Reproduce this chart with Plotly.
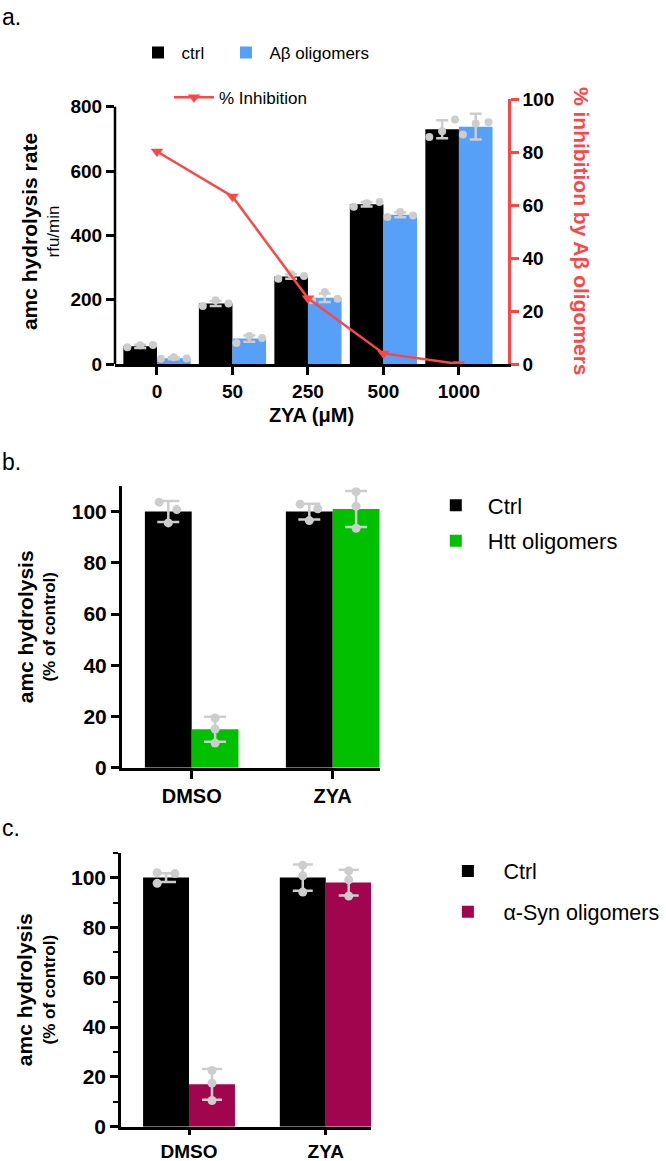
import plotly.graph_objects as go

# ---------------- data ----------------
# Panel a
zya_labels = ["0", "50", "250", "500", "1000"]
ctrl_a = [55, 188, 272, 497, 730]
ctrl_a_sd = [5, 8, 7, 7, 28]
ctrl_a_pts = [[52, 58, 59], [180, 198, 188], [265, 279, 274], [489, 500, 504], [706, 724, 760]]
abeta_a = [18, 79, 206, 464, 738]
abeta_a_sd = [3, 10, 13, 8, 40]
abeta_a_pts = [[16, 21, 17], [65, 87, 81], [198, 224, 203], [457, 473, 462], [714, 748, 752]]
inhibition = [80.2, 63.2, 24.8, 4.0, 0.0]

# Panel b
groups_bc = ["DMSO", "ZYA"]
ctrl_b = [100, 100]
ctrl_b_sd = [4.1, 3.1]
ctrl_b_pts = [[103.7, 95.6, 100.8], [102.9, 96.5, 101.1]]
htt_b = [15, 101]
htt_b_sd = [4.9, 7.0]
htt_b_pts = [[19.4, 15.1, 9.6], [107.8, 102.1, 93.5]]

# Panel c
ctrl_c = [100, 100]
ctrl_c_sd = [1.8, 5.3]
ctrl_c_pts = [[102.0, 97.7, 101.6], [105.0, 100.7, 94.2]]
syn_c = [17, 98]
syn_c_sd = [6.2, 5.2]
syn_c_pts = [[22.6, 17.5, 10.5], [102.7, 99.1, 92.6]]

# ---------------- style ----------------
W, H = 666, 1161
FONT = "Liberation Sans, Arial, Helvetica, sans-serif"
BLACK = "#000000"
BLUE = "#56A0FA"
GREEN = "#00C000"
MAROON = "#A0054E"
RED = "#FF4545"
GRAY = "#CDCDCD"

BW_A = 0.445
BW_B = 0.332
BW_C = 0.336
JIT_A = [-0.17, 0.0, 0.17]
JIT_B_CTRL = [-0.065, 0.0, 0.06]
JIT_CENTER = [0.0, 0.0, 0.0]
JIT_C_CTRL = [[-0.065, -0.065, 0.065], [0.0, 0.0, 0.0]]


def fx(p):
    return p / W


def fy(p):
    return 1 - p / H


def points(pts, center_off, jit):
    xs, ys = [], []
    for i, grp in enumerate(pts):
        j = jit[i] if isinstance(jit[0], list) else jit
        for k, v in enumerate(grp):
            xs.append(i + center_off + j[k])
            ys.append(v)
    return xs, ys


def err(arr, w):
    return dict(type="data", array=arr, color=GRAY, thickness=2.5, width=w)


fig = go.Figure()

# ---------------- panel a ----------------
xa = list(range(len(zya_labels)))
fig.add_trace(go.Bar(x=xa, y=ctrl_a, offset=-BW_A, width=BW_A, name="ctrl",
                     marker=dict(color=BLACK, line=dict(width=0)),
                     error_y=err(ctrl_a_sd, 6), xaxis="x", yaxis="y", legend="legend"))
fig.add_trace(go.Bar(x=xa, y=abeta_a, offset=0, width=BW_A, name="Aβ oligomers",
                     marker=dict(color=BLUE, line=dict(width=0)),
                     error_y=err(abeta_a_sd, 6), xaxis="x", yaxis="y", legend="legend5"))
for pts, off in ((ctrl_a_pts, -BW_A / 2), (abeta_a_pts, BW_A / 2)):
    xs, ys = points(pts, off, JIT_A)
    fig.add_trace(go.Scatter(x=xs, y=ys, mode="markers", marker=dict(color=GRAY, size=8),
                             showlegend=False, hoverinfo="skip", xaxis="x", yaxis="y"))
fig.add_trace(go.Scatter(x=xa, y=inhibition, mode="lines+markers", name="% Inhibition",
                         line=dict(color=RED, width=2.5),
                         marker=dict(symbol="triangle-down", size=11, color=RED),
                         xaxis="x", yaxis="y2", legend="legend2"))

# ---------------- panel b ----------------
xb = list(range(len(groups_bc)))
fig.add_trace(go.Bar(x=xb, y=ctrl_b, offset=-BW_B, width=BW_B, name="Ctrl",
                     marker=dict(color=BLACK, line=dict(width=0)),
                     error_y=err(ctrl_b_sd, 11), xaxis="x2", yaxis="y3",
                     legend="legend3", legendgroup="b1"))
fig.add_trace(go.Bar(x=xb, y=htt_b, offset=0, width=BW_B, name="Htt oligomers",
                     marker=dict(color=GREEN, line=dict(width=0)),
                     error_y=err(htt_b_sd, 11), xaxis="x2", yaxis="y3",
                     legend="legend3", legendgroup="b2"))
for pts, off, jit in ((ctrl_b_pts, -BW_B / 2, JIT_B_CTRL), (htt_b_pts, BW_B / 2, JIT_CENTER)):
    xs, ys = points(pts, off, jit)
    fig.add_trace(go.Scatter(x=xs, y=ys, mode="markers", marker=dict(color=GRAY, size=9),
                             showlegend=False, hoverinfo="skip", xaxis="x2", yaxis="y3"))

# ---------------- panel c ----------------
fig.add_trace(go.Bar(x=xb, y=ctrl_c, offset=-BW_C, width=BW_C, name="Ctrl",
                     marker=dict(color=BLACK, line=dict(width=0)),
                     error_y=err(ctrl_c_sd, 10), xaxis="x3", yaxis="y4",
                     legend="legend4", legendgroup="c1"))
fig.add_trace(go.Bar(x=xb, y=syn_c, offset=0, width=BW_C, name="α-Syn oligomers",
                     marker=dict(color=MAROON, line=dict(width=0)),
                     error_y=err(syn_c_sd, 10), xaxis="x3", yaxis="y4",
                     legend="legend4", legendgroup="c2"))
for pts, off, jit in ((ctrl_c_pts, -BW_C / 2, JIT_C_CTRL), (syn_c_pts, BW_C / 2, JIT_CENTER)):
    xs, ys = points(pts, off, jit)
    fig.add_trace(go.Scatter(x=xs, y=ys, mode="markers", marker=dict(color=GRAY, size=9),
                             showlegend=False, hoverinfo="skip", xaxis="x3", yaxis="y4"))


# ---------------- axes ----------------
def ax(**kw):
    d = dict(showgrid=False, zeroline=False, showline=True, linecolor=BLACK, linewidth=2.5,
             ticks="outside", ticklen=8, tickwidth=2.5, tickcolor=BLACK,
             tickfont=dict(family=FONT, size=19, color=BLACK, weight="bold"),
             fixedrange=True, automargin=False)
    d.update(kw)
    return d


sub_font = dict(family=FONT, size=17, color=BLACK)
tick_bc = dict(family=FONT, size=21, color=BLACK, weight="bold")
xtick_bc = dict(family=FONT, size=20, color=BLACK, weight="bold")
title_a = "<b><span style='font-size:21px'>amc hydrolysis rate</span></b><br>rfu/min"
title_bc = "<b><span style='font-size:21px'>amc hydrolysis</span></b><br><b>(% of control)</b>"
leg_common = dict(xanchor="left", yanchor="middle", bgcolor="rgba(0,0,0,0)")

layout = dict(
    width=W, height=H,
    margin=dict(l=0, r=0, t=0, b=0, autoexpand=False),
    paper_bgcolor="white", plot_bgcolor="white",
    barmode="overlay",
    font=dict(family=FONT, color=BLACK, size=17),
    # panel a
    xaxis=ax(domain=[fx(115), fx(508)], range=[-0.556, 4.65], anchor="y",
             tickmode="array", tickvals=xa, ticktext=zya_labels,
             title=dict(text="ZYA (μM)", font=dict(family=FONT, size=20, weight="bold"), standoff=8)),
    yaxis=ax(domain=[fy(364), fy(99)], range=[0, 824], anchor="x", showline=False,
             tickmode="array", tickvals=[0, 200, 400, 600, 800],
             title=dict(text=title_a, font=sub_font, standoff=6)),
    yaxis2=ax(overlaying="y", side="right", anchor="x", range=[0, 100],
              tickmode="array", tickvals=[0, 20, 40, 60, 80, 100],
              linecolor=RED, tickcolor=RED),
    # panel b
    xaxis2=ax(domain=[fx(121.7), fx(380)], range=[-0.4965, 1.3355], anchor="y3",
              tickmode="array", tickvals=xb, ticktext=groups_bc, ticklen=9, tickfont=xtick_bc),
    yaxis3=ax(domain=[fy(767.7), fy(486)], range=[0, 110], anchor="x2",
              tickmode="array", tickvals=[0, 20, 40, 60, 80, 100], tickfont=tick_bc,
              title=dict(text=title_bc, font=sub_font, standoff=12)),
    # panel c
    xaxis3=ax(domain=[fx(121), fx(371)], range=[-0.4975, 1.331], anchor="y4",
              tickmode="array", tickvals=xb, ticktext=groups_bc, ticklen=6,
              tickfont=dict(family=FONT, size=19, color=BLACK, weight="bold")),
    yaxis4=ax(domain=[fy(1126.7), fy(852.7)], range=[0, 110], anchor="x3",
              tickmode="linear", tick0=0, dtick=20,
              minor=dict(dtick=10, ticks="outside", ticklen=5, tickwidth=2, tickcolor=BLACK),
              tickfont=tick_bc,
              title=dict(text=title_bc, font=sub_font, standoff=12)),
    # legends
    legend=dict(orientation="h", x=fx(134.5), y=fy(53),
                font=dict(family=FONT, size=17, color=BLACK), itemwidth=37, **leg_common),
    legend5=dict(orientation="h", x=fx(222.5), y=fy(53),
                 font=dict(family=FONT, size=17, color=BLACK), itemwidth=37, **leg_common),
    legend2=dict(orientation="h", x=fx(169), y=fy(97.7),
                 font=dict(family=FONT, size=17, color=BLACK), itemwidth=40, **leg_common),
    legend3=dict(x=fx(423.8), y=fy(523.4),
                 font=dict(family=FONT, size=22, color=BLACK), itemwidth=54,
                 traceorder="grouped", tracegroupgap=4, **leg_common),
    legend4=dict(x=fx(432.4), y=fy(891.4),
                 font=dict(family=FONT, size=21.5, color=BLACK), itemwidth=61,
                 traceorder="grouped", tracegroupgap=10, **leg_common),
    shapes=[
        dict(type="line", xref="x domain", yref="y", x0=0, x1=0, y0=0, y1=800,
             line=dict(color=BLACK, width=2.5)),
    ],
    annotations=[
        dict(text="a.", x=0, y=fy(17), xref="paper", yref="paper", xanchor="left",
             yanchor="middle", showarrow=False, font=dict(family=FONT, size=23, color=BLACK)),
        dict(text="b.", x=0, y=fy(462), xref="paper", yref="paper", xanchor="left",
             yanchor="middle", showarrow=False, font=dict(family=FONT, size=23, color=BLACK)),
        dict(text="c.", x=0, y=fy(828), xref="paper", yref="paper", xanchor="left",
             yanchor="middle", showarrow=False, font=dict(family=FONT, size=23, color=BLACK)),
        dict(text="<b>% inhibition by Aβ oligomers</b>", x=fx(582), y=fy(231),
             xref="paper", yref="paper", xanchor="center", yanchor="middle",
             textangle=90, showarrow=False, font=dict(family=FONT, size=21, color=RED)),
    ],
)

fig.update_layout(**layout)

# page without the default body margin so the 666x1161 figure fills the window exactly
post_js = "document.body.style.margin='0';document.body.style.overflow='hidden';"
fig.write_html("out.html", config={"displayModeBar": False}, post_script=post_js)
